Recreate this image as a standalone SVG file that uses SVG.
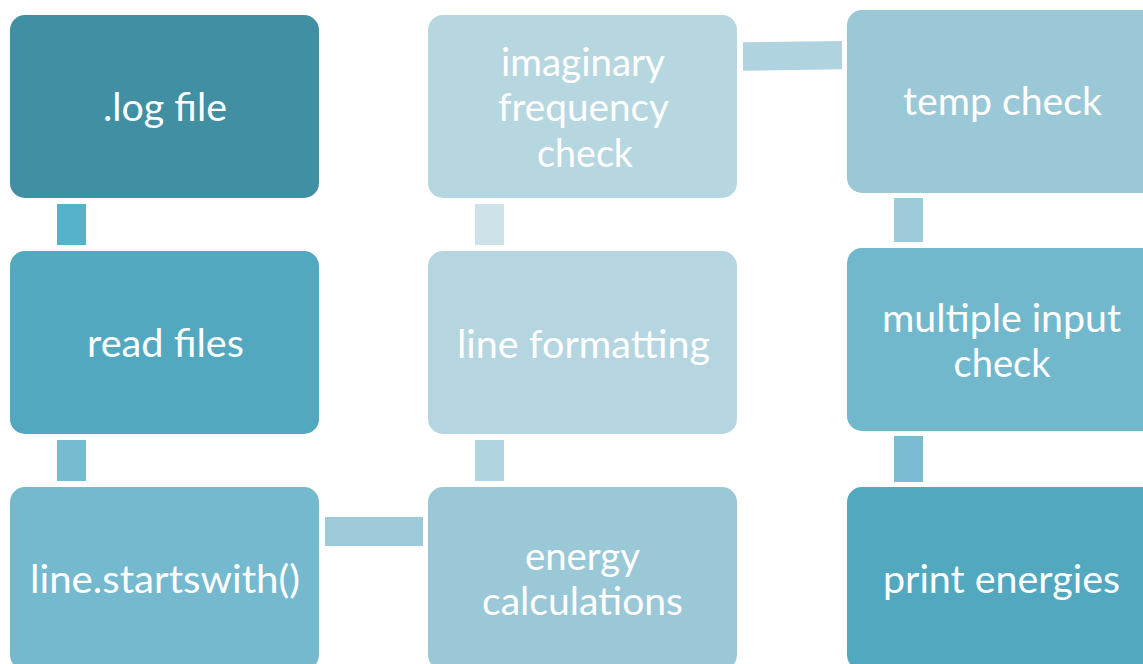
<svg xmlns="http://www.w3.org/2000/svg" width="1143" height="664" viewBox="0 0 1143 664">
  <style>
    .box { stroke: none; }
    .lbl { font-family: Lato, "Open Sans", sans-serif; font-size: 38px; fill: #ffffff; text-anchor: middle; }
  </style>
  <rect width="1143" height="664" fill="#ffffff"/>

  <!-- connectors -->
  <g id="connectors">
    <rect x="57" y="204" width="29" height="41" fill="#56B2C8"/>
    <rect x="57" y="440" width="29" height="41" fill="#76BBD0"/>
    <rect x="325" y="517" width="98" height="29" fill="#9CCAD9"/>
    <rect x="475" y="440" width="29" height="41" fill="#B0D5E0"/>
    <rect x="475" y="204" width="29" height="41" fill="#CDE1E9"/>
    <polygon points="743,42.3 842,41 842,69.3 743,70.7" fill="#B0D4DF"/>
    <rect x="894" y="198" width="29" height="44" fill="#9CCAD9"/>
    <rect x="894" y="436" width="29" height="46" fill="#79BBD1"/>
  </g>

  <g id="log-file">
    <rect class="box" x="10" y="15" width="309" height="183" rx="15" fill="#418FA2"/>
    <text class="lbl" x="165" y="121" textLength="124" lengthAdjust="spacingAndGlyphs">.log file</text>
  </g>
  <g id="read-files">
    <rect class="box" x="10" y="251" width="309" height="183" rx="15" fill="#52A8BF"/>
    <text class="lbl" x="165.5" y="357" textLength="157" lengthAdjust="spacingAndGlyphs">read files</text>
  </g>
  <g id="line-startswith">
    <rect class="box" x="10" y="487" width="309" height="183" rx="15" fill="#75B9CE"/>
    <text class="lbl" x="165" y="593" textLength="270" lengthAdjust="spacingAndGlyphs">line.startswith()</text>
  </g>
  <g id="energy-calculations">
    <rect class="box" x="428" y="487" width="309" height="183" rx="15" fill="#9AC8D7"/>
    <text class="lbl" x="582.5" y="570" textLength="115" lengthAdjust="spacingAndGlyphs">energy</text>
    <text class="lbl" x="582.5" y="615" textLength="201" lengthAdjust="spacingAndGlyphs">calculations</text>
  </g>
  <g id="line-formatting">
    <rect class="box" x="428" y="251" width="309" height="183" rx="15" fill="#B5D6E0"/>
    <text class="lbl" x="583.5" y="358" textLength="253" lengthAdjust="spacingAndGlyphs">line formatting</text>
  </g>
  <g id="imaginary-frequency-check">
    <rect class="box" x="428" y="15" width="309" height="183" rx="15" fill="#B7D7E0"/>
    <text class="lbl" x="583" y="76" textLength="164" lengthAdjust="spacingAndGlyphs">imaginary</text>
    <text class="lbl" x="583.5" y="121" textLength="171" lengthAdjust="spacingAndGlyphs">frequency</text>
    <text class="lbl" x="585" y="167" textLength="96" lengthAdjust="spacingAndGlyphs">check</text>
  </g>
  <g id="temp-check">
    <rect class="box" x="847" y="10" width="310" height="183" rx="15" fill="#9AC8D7"/>
    <text class="lbl" x="1002.5" y="115" textLength="199" lengthAdjust="spacingAndGlyphs">temp check</text>
  </g>
  <g id="multiple-input-check">
    <rect class="box" x="847" y="248" width="310" height="183" rx="15" fill="#72B8CD"/>
    <text class="lbl" x="1001.5" y="332" textLength="239" lengthAdjust="spacingAndGlyphs">multiple input</text>
    <text class="lbl" x="1002" y="377" textLength="97" lengthAdjust="spacingAndGlyphs">check</text>
  </g>
  <g id="print-energies">
    <rect class="box" x="847" y="487" width="310" height="183" rx="15" fill="#52A8BF"/>
    <text class="lbl" x="1001.5" y="593" textLength="237" lengthAdjust="spacingAndGlyphs">print energies</text>
  </g>
</svg>
